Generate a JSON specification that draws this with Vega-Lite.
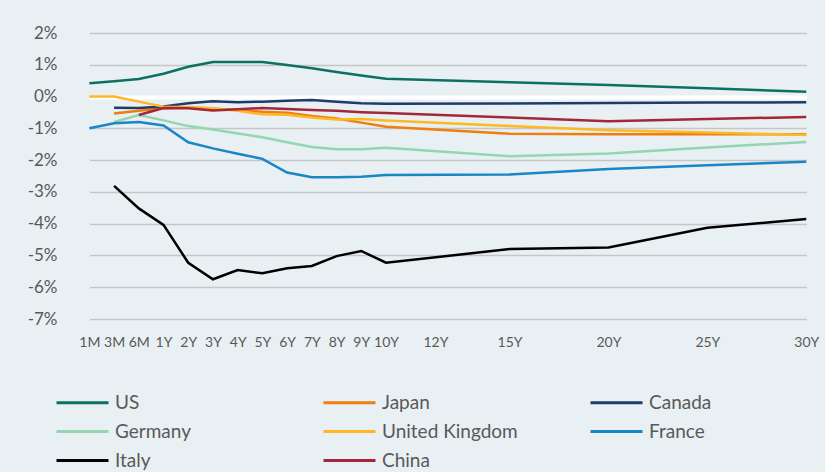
{
  "$schema": "https://vega.github.io/schema/vega-lite/v6.json",
  "width": 741,
  "height": 286,
  "autosize": {"type": "none"},
  "padding": {"left": 77, "top": 33, "right": 7, "bottom": 153},
  "background": "#e8f0f3",
  "config": {"view": {"stroke": null}, "font": "Lato"},
  "data": {"values": [
    {"country": "US", "years": 0.0833333, "value": 0.42},
    {"country": "US", "years": 0.25, "value": 0.48},
    {"country": "US", "years": 0.5, "value": 0.55},
    {"country": "US", "years": 1, "value": 0.72},
    {"country": "US", "years": 2, "value": 0.94},
    {"country": "US", "years": 3, "value": 1.09},
    {"country": "US", "years": 4, "value": 1.09},
    {"country": "US", "years": 5, "value": 1.09},
    {"country": "US", "years": 6, "value": 0.99},
    {"country": "US", "years": 7, "value": 0.89},
    {"country": "US", "years": 8, "value": 0.77},
    {"country": "US", "years": 9, "value": 0.66},
    {"country": "US", "years": 10, "value": 0.56},
    {"country": "US", "years": 15, "value": 0.45},
    {"country": "US", "years": 20, "value": 0.36},
    {"country": "US", "years": 25, "value": 0.26},
    {"country": "US", "years": 30, "value": 0.15},

    {"country": "Japan", "years": 0.25, "value": -0.53},
    {"country": "Japan", "years": 0.5, "value": -0.45},
    {"country": "Japan", "years": 1, "value": -0.37},
    {"country": "Japan", "years": 2, "value": -0.34},
    {"country": "Japan", "years": 3, "value": -0.38},
    {"country": "Japan", "years": 4, "value": -0.42},
    {"country": "Japan", "years": 5, "value": -0.48},
    {"country": "Japan", "years": 6, "value": -0.51},
    {"country": "Japan", "years": 7, "value": -0.61},
    {"country": "Japan", "years": 8, "value": -0.69},
    {"country": "Japan", "years": 9, "value": -0.82},
    {"country": "Japan", "years": 10, "value": -0.95},
    {"country": "Japan", "years": 15, "value": -1.17},
    {"country": "Japan", "years": 20, "value": -1.19},
    {"country": "Japan", "years": 25, "value": -1.19},
    {"country": "Japan", "years": 30, "value": -1.19},

    {"country": "Canada", "years": 0.25, "value": -0.35},
    {"country": "Canada", "years": 0.5, "value": -0.36},
    {"country": "Canada", "years": 1, "value": -0.31},
    {"country": "Canada", "years": 2, "value": -0.21},
    {"country": "Canada", "years": 3, "value": -0.15},
    {"country": "Canada", "years": 4, "value": -0.18},
    {"country": "Canada", "years": 5, "value": -0.16},
    {"country": "Canada", "years": 6, "value": -0.13},
    {"country": "Canada", "years": 7, "value": -0.11},
    {"country": "Canada", "years": 8, "value": -0.16},
    {"country": "Canada", "years": 9, "value": -0.21},
    {"country": "Canada", "years": 10, "value": -0.23},
    {"country": "Canada", "years": 15, "value": -0.22},
    {"country": "Canada", "years": 20, "value": -0.2},
    {"country": "Canada", "years": 25, "value": -0.19},
    {"country": "Canada", "years": 30, "value": -0.18},

    {"country": "Germany", "years": 0.25, "value": -0.8},
    {"country": "Germany", "years": 0.5, "value": -0.58},
    {"country": "Germany", "years": 1, "value": -0.75},
    {"country": "Germany", "years": 2, "value": -0.93},
    {"country": "Germany", "years": 3, "value": -1.04},
    {"country": "Germany", "years": 4, "value": -1.16},
    {"country": "Germany", "years": 5, "value": -1.28},
    {"country": "Germany", "years": 6, "value": -1.44},
    {"country": "Germany", "years": 7, "value": -1.59},
    {"country": "Germany", "years": 8, "value": -1.66},
    {"country": "Germany", "years": 9, "value": -1.66},
    {"country": "Germany", "years": 10, "value": -1.61},
    {"country": "Germany", "years": 15, "value": -1.88},
    {"country": "Germany", "years": 20, "value": -1.79},
    {"country": "Germany", "years": 25, "value": -1.6},
    {"country": "Germany", "years": 30, "value": -1.43},

    {"country": "United Kingdom", "years": 0.0833333, "value": 0},
    {"country": "United Kingdom", "years": 0.25, "value": 0},
    {"country": "United Kingdom", "years": 0.5, "value": -0.16},
    {"country": "United Kingdom", "years": 1, "value": -0.32},
    {"country": "United Kingdom", "years": 2, "value": -0.33},
    {"country": "United Kingdom", "years": 3, "value": -0.37},
    {"country": "United Kingdom", "years": 4, "value": -0.45},
    {"country": "United Kingdom", "years": 5, "value": -0.56},
    {"country": "United Kingdom", "years": 6, "value": -0.57},
    {"country": "United Kingdom", "years": 7, "value": -0.66},
    {"country": "United Kingdom", "years": 8, "value": -0.72},
    {"country": "United Kingdom", "years": 9, "value": -0.71},
    {"country": "United Kingdom", "years": 10, "value": -0.75},
    {"country": "United Kingdom", "years": 15, "value": -0.93},
    {"country": "United Kingdom", "years": 20, "value": -1.06},
    {"country": "United Kingdom", "years": 25, "value": -1.13},
    {"country": "United Kingdom", "years": 30, "value": -1.21},

    {"country": "France", "years": 0.0833333, "value": -1.0},
    {"country": "France", "years": 0.25, "value": -0.84},
    {"country": "France", "years": 0.5, "value": -0.8},
    {"country": "France", "years": 1, "value": -0.91},
    {"country": "France", "years": 2, "value": -1.44},
    {"country": "France", "years": 3, "value": -1.63},
    {"country": "France", "years": 4, "value": -1.8},
    {"country": "France", "years": 5, "value": -1.96},
    {"country": "France", "years": 6, "value": -2.39},
    {"country": "France", "years": 7, "value": -2.54},
    {"country": "France", "years": 8, "value": -2.54},
    {"country": "France", "years": 9, "value": -2.52},
    {"country": "France", "years": 10, "value": -2.47},
    {"country": "France", "years": 15, "value": -2.45},
    {"country": "France", "years": 20, "value": -2.28},
    {"country": "France", "years": 25, "value": -2.16},
    {"country": "France", "years": 30, "value": -2.05},

    {"country": "Italy", "years": 0.25, "value": -2.81},
    {"country": "Italy", "years": 0.5, "value": -3.52},
    {"country": "Italy", "years": 1, "value": -4.04},
    {"country": "Italy", "years": 2, "value": -5.23},
    {"country": "Italy", "years": 3, "value": -5.75},
    {"country": "Italy", "years": 4, "value": -5.46},
    {"country": "Italy", "years": 5, "value": -5.56},
    {"country": "Italy", "years": 6, "value": -5.4},
    {"country": "Italy", "years": 7, "value": -5.33},
    {"country": "Italy", "years": 8, "value": -5.02},
    {"country": "Italy", "years": 9, "value": -4.86},
    {"country": "Italy", "years": 10, "value": -5.23},
    {"country": "Italy", "years": 15, "value": -4.8},
    {"country": "Italy", "years": 20, "value": -4.75},
    {"country": "Italy", "years": 25, "value": -4.13},
    {"country": "Italy", "years": 30, "value": -3.85},

    {"country": "China", "years": 0.5, "value": -0.58},
    {"country": "China", "years": 1, "value": -0.36},
    {"country": "China", "years": 2, "value": -0.37},
    {"country": "China", "years": 3, "value": -0.44},
    {"country": "China", "years": 4, "value": -0.4},
    {"country": "China", "years": 5, "value": -0.36},
    {"country": "China", "years": 6, "value": -0.39},
    {"country": "China", "years": 7, "value": -0.42},
    {"country": "China", "years": 8, "value": -0.45},
    {"country": "China", "years": 9, "value": -0.49},
    {"country": "China", "years": 10, "value": -0.52},
    {"country": "China", "years": 15, "value": -0.66},
    {"country": "China", "years": 20, "value": -0.78},
    {"country": "China", "years": 25, "value": -0.71},
    {"country": "China", "years": 30, "value": -0.64}
  ]},
  "mark": {"type": "line", "strokeWidth": 2.5},
  "encoding": {
    "x": {
      "field": "years",
      "type": "quantitative",
      "scale": {
        "domain": [0.0833333, 0.25, 0.5, 1, 15, 30],
        "range": [12.36, 37.08, 61.8, 86.52, 432.6, 729.24]
      },
      "axis": {
        "title": null,
        "values": [0.0833333, 0.25, 0.5, 1, 2, 3, 4, 5, 6, 7, 8, 9, 10, 12, 15, 20, 25, 30],
        "labelExpr": "datum.value < 1 ? round(datum.value * 12) + 'M' : datum.value + 'Y'",
        "domain": false,
        "ticks": false,
        "grid": false,
        "labelOverlap": false,
        "labelFlush": false,
        "labelFontSize": 14,
        "labelColor": "#595959",
        "labelPadding": 16
      }
    },
    "y": {
      "field": "value",
      "type": "quantitative",
      "scale": {"domain": [-7, 2], "nice": false},
      "axis": {
        "title": null,
        "values": [-7, -6, -5, -4, -3, -2, -1, 0, 1, 2],
        "labelExpr": "datum.value + '%'",
        "domain": false,
        "ticks": false,
        "gridColor": {"condition": {"test": "datum.value === 0", "value": "#ffffff"}, "value": "#c6c6c6"},
        "gridWidth": {"condition": {"test": "datum.value === 0", "value": 4}, "value": 1.5},
        "labelFontSize": 17,
        "labelColor": "#595959",
        "labelPadding": 20
      }
    },
    "color": {
      "field": "country",
      "type": "nominal",
      "scale": {
        "domain": ["US", "Japan", "Canada", "Germany", "United Kingdom", "France", "Italy", "China"],
        "range": ["#0b7262", "#f07d0c", "#1f3b6b", "#94d6b0", "#fdb824", "#1a85c7", "#000000", "#a3263a"]
      },
      "legend": {
        "title": null,
        "orient": "none",
        "legendX": -22,
        "legendY": 355,
        "direction": "horizontal",
        "columns": 3,
        "gridAlign": "all",
        "symbolType": "M-1,0H3",
        "symbolStrokeWidth": 3,
        "symbolSize": 676,
        "labelFontSize": 19,
        "labelColor": "#595959",
        "labelOffset": 31,
        "labelLimit": 300,
        "columnPadding": 66,
        "rowPadding": 4
      }
    }
  }
}
